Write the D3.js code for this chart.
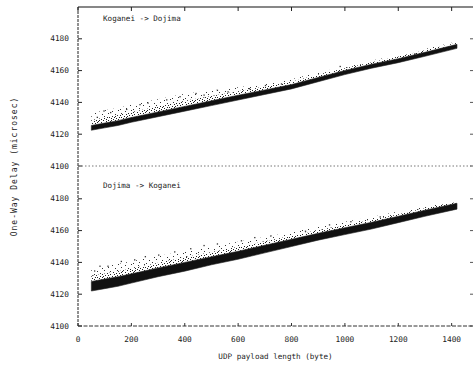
<!DOCTYPE html>
<html>
<head>
<meta charset="utf-8">
<script src="https://cdn.jsdelivr.net/npm/d3@7"></script>
<style>
  body { margin: 0; background: #fff; }
  text { font-family: "DejaVu Sans Mono", monospace; fill: #222; }
</style>
</head>
<body>
<svg id="chart" width="475" height="368"></svg>
<script>
const bytes = [50, 100, 150, 200, 300, 400, 500, 600, 700, 800, 900, 1000, 1100, 1200, 1300, 1420];

// Koganei -> Dojima (upper panel)
const kdLow    = [4122.5, 4124, 4125.5, 4127.5, 4131, 4134.5, 4138, 4141.5, 4145, 4148.5, 4153, 4157.5, 4161.5, 4165, 4169, 4174];
const kdDense  = [4125.5, 4127, 4128.5, 4130.5, 4134, 4137.5, 4141, 4144.5, 4147.8, 4151.2, 4155.7, 4160.1, 4164, 4167.5, 4171.5, 4176.5];
const kdMid    = [4129, 4130.5, 4132, 4134, 4137.5, 4141, 4144, 4147, 4150, 4153, 4157.5, 4161.5, 4165.3, 4168.8, 4172.8, 4177.5];
const kdSparse = [4133, 4135, 4136.5, 4138.5, 4142, 4145.5, 4147.5, 4149.5, 4151.5, 4154.5, 4159, 4162.5, 4166.3, 4169.7, 4173.6, 4178.3];
const kdOut = [[70, 4131], [95, 4135], [120, 4134], [180, 4136], [230, 4139], [260, 4140], [330, 4142], [380, 4144],
  [440, 4146], [470, 4145], [520, 4148], [560, 4147], [640, 4149], [700, 4151], [760, 4152], [980, 4163], [1150, 4166], [1260, 4171]];

// Dojima -> Koganei (lower panel)
const dkLow    = [4122, 4123.5, 4125, 4127, 4131, 4134.5, 4138.5, 4142, 4146, 4150, 4154, 4157.5, 4161, 4165, 4169, 4173.5];
const dkDense  = [4128, 4129.5, 4131, 4132.8, 4136.5, 4140, 4143.5, 4147, 4150.8, 4154.5, 4158.3, 4161.8, 4165.2, 4169, 4172.8, 4177.2];
const dkMid    = [4131.5, 4133, 4134.5, 4136.2, 4139.8, 4143.2, 4146.5, 4149.8, 4153.3, 4156.8, 4160.3, 4163.5, 4166.7, 4170.3, 4174, 4178.2];
const dkSparse = [4136, 4137.5, 4139, 4140.8, 4144, 4147, 4150, 4153, 4156, 4159, 4162.5, 4165.5, 4168.5, 4172, 4175.5, 4179];
const dkOut = [[60, 4135], [80, 4138], [110, 4138], [160, 4141], [210, 4142], [250, 4144], [300, 4145], [360, 4147],
  [420, 4149], [470, 4151], [520, 4152], [610, 4154], [660, 4156], [720, 4157], [850, 4160], [940, 4164], [1020, 4166], [1130, 4169]];

const xTicks = [0, 200, 400, 600, 800, 1000, 1200, 1400];
const yTicks = [4100, 4120, 4140, 4160, 4180];

const svg = d3.select('#chart');
const pLeft = 78, pRight = 473, pTop = 7, pMid = 166, pBottom = 326;

const x = d3.scaleLinear().domain([0, 1480]).range([pLeft, pRight]);
const yTop = d3.scaleLinear().domain([4100, 4200]).range([pMid, pTop]);
const yBot = d3.scaleLinear().domain([4100, 4200]).range([pBottom, pMid + 1]);

// stipple patterns to mimic the scattered dots of the scan
const defs = svg.append('defs');
function stipple(id, w, h, dots, color) {
  const p = defs.append('pattern').attr('id', id)
    .attr('width', w).attr('height', h).attr('patternUnits', 'userSpaceOnUse');
  dots.forEach(([a, b]) => p.append('rect').attr('x', a).attr('y', b)
    .attr('width', 1).attr('height', 1).attr('fill', color));
}
stipple('stipDense', 12, 10, [[0, 0], [3, 0], [7, 0], [10, 1], [1, 2], [5, 2], [8, 3], [11, 3], [2, 4], [6, 4], [9, 5],
  [0, 5], [4, 6], [7, 6], [11, 7], [1, 7], [3, 8], [8, 8], [5, 9], [10, 9], [2, 1], [6, 7]], '#222');
stipple('stipSparse', 13, 11, [[1, 0], [8, 1], [4, 3], [11, 4], [0, 6], [6, 7], [9, 9], [3, 10]], '#333');

function drawPanel(y, low, dense, midE, sparse, outliers, title, titleY) {
  const g = svg.append('g');
  const band = (lo, hi) => d3.area()
    .x((d, i) => x(bytes[i]))
    .y0((d, i) => y(lo[i]))
    .y1((d, i) => y(hi[i]))(bytes);
  g.append('path').attr('d', band(midE, sparse)).attr('fill', 'url(#stipSparse)');
  g.append('path').attr('d', band(dense, midE)).attr('fill', 'url(#stipDense)');
  g.append('path').attr('d', band(low, dense)).attr('fill', '#111')
    .attr('stroke', '#222').attr('stroke-width', 0.6);
  g.selectAll('rect.out').data(outliers).join('rect')
    .attr('x', d => x(d[0])).attr('y', d => y(d[1]))
    .attr('width', 1.3).attr('height', 1.3).attr('fill', '#333');

  // y ticks on both sides, pointing inward
  yTicks.forEach(v => {
    g.append('line').attr('x1', pLeft).attr('x2', pLeft + 4)
      .attr('y1', y(v)).attr('y2', y(v)).attr('stroke', '#222');
    g.append('line').attr('x1', pRight).attr('x2', pRight - 3)
      .attr('y1', y(v)).attr('y2', y(v)).attr('stroke', '#555');
    g.append('text').attr('x', 69).attr('y', y(v) + 2.5)
      .attr('text-anchor', 'end').attr('font-size', 7.8).text(v);
  });
  g.append('text').attr('x', 103).attr('y', titleY)
    .attr('font-size', 7.6).attr('fill', '#333').text(title);
}

drawPanel(yTop, kdLow, kdDense, kdMid, kdSparse, kdOut, 'Koganei -> Dojima', 21);
drawPanel(yBot, dkLow, dkDense, dkMid, dkSparse, dkOut, 'Dojima -> Koganei', 188);

// frame
svg.append('line').attr('x1', pLeft).attr('x2', pRight).attr('y1', pTop).attr('y2', pTop)
  .attr('stroke', '#111').attr('stroke-width', 1.2);
svg.append('line').attr('x1', pLeft).attr('x2', pLeft).attr('y1', pTop).attr('y2', pBottom)
  .attr('stroke', '#222').attr('stroke-dasharray', '3,1');
svg.append('line').attr('x1', pLeft).attr('x2', pRight).attr('y1', pBottom).attr('y2', pBottom)
  .attr('stroke', '#333').attr('stroke-dasharray', '4,1.5');
svg.append('line').attr('x1', pLeft).attr('x2', pRight).attr('y1', pMid).attr('y2', pMid)
  .attr('stroke', '#777').attr('stroke-dasharray', '1.5,2');

// x axis ticks (top pointing down, bottom pointing up) and labels
xTicks.forEach(v => {
  svg.append('line').attr('x1', x(v)).attr('x2', x(v)).attr('y1', pTop).attr('y2', pTop + 4)
    .attr('stroke', '#222');
  svg.append('line').attr('x1', x(v)).attr('x2', x(v)).attr('y1', pBottom).attr('y2', pBottom - 3)
    .attr('stroke', '#333');
  svg.append('text').attr('x', x(v)).attr('y', 342).attr('text-anchor', 'middle')
    .attr('font-size', 7.8).text(v);
});

svg.append('text').attr('x', (pLeft + pRight) / 2).attr('y', 359).attr('text-anchor', 'middle')
  .attr('font-size', 7.6).attr('fill', '#333').text('UDP payload length (byte)');
svg.append('text').attr('transform', `translate(17,${(pTop + pBottom) / 2}) rotate(-90)`)
  .attr('text-anchor', 'middle').attr('font-size', 8).attr('fill', '#333')
  .attr('letter-spacing', 1).text('One-Way Delay (microsec)');
</script>
</body>
</html>
